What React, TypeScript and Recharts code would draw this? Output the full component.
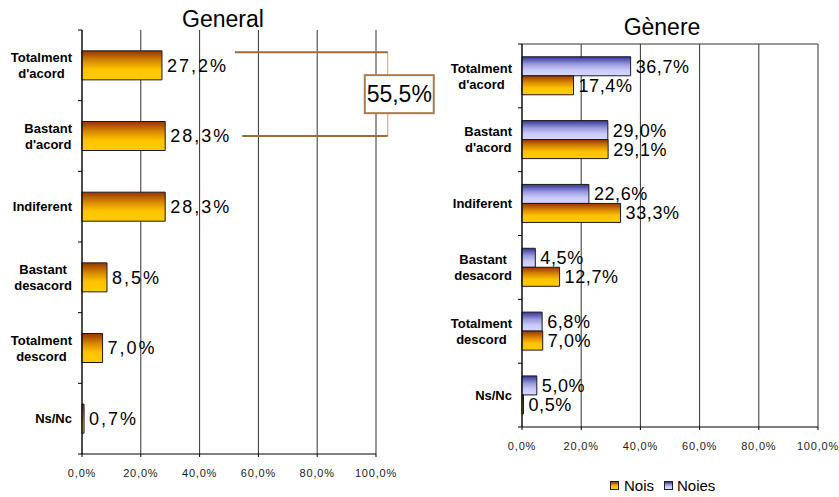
import React from 'react';
import { BarChart, Bar, XAxis, YAxis, CartesianGrid, LabelList, ReferenceLine } from 'recharts';

const categories = [
  "Totalment d'acord",
  "Bastant d'acord",
  'Indiferent',
  'Bastant desacord',
  'Totalment descord',
  'Ns/Nc',
];
const generalValues = [27.2, 28.3, 28.3, 8.5, 7.0, 0.7];
const noisValues = [17.4, 29.1, 33.3, 12.7, 7.0, 0.5];
const noiesValues = [36.7, 29.0, 22.6, 4.5, 6.8, 5.0];
const xTicks = [0, 20, 40, 60, 80, 100];
const seriesNames = ['Nois', 'Noies'];
const titles = ['General', 'Gènere'];

const generalData = categories.map((c, i) => ({ cat: c, total: generalValues[i] }));
const genderData = categories.map((c, i) => ({ cat: c, nois: noisValues[i], noies: noiesValues[i] }));

const FONT = "'Liberation Sans', Arial, Helvetica, sans-serif";
const BROWN = '#9E6A3A';
const fmt = (v: number) => v.toFixed(1).replace('.', ',') + '%';

let ctx: CanvasRenderingContext2D | null = null;
function measure(text: string, font: string) {
  if (!ctx) {
    const c = document.createElement('canvas');
    ctx = c.getContext('2d');
  }
  if (!ctx) return text.length * 7.5;
  ctx.font = font;
  return ctx.measureText(text).width;
}

const CategoryTick = (props: any) => {
  const { x, y, payload, index, bandHalf } = props;
  const half = payload && payload.offset ? payload.offset : bandHalf;
  const lines = String(payload.value).split(' ');
  const font = `bold 13px ${FONT}`;
  const maxW = Math.max(...lines.map((l) => measure(l, font)));
  const cx = x - 10 - maxW / 2;
  const lh = 16;
  const y0 = y - ((lines.length - 1) * lh) / 2;
  return (
    <g>
      <line x1={x - 4} x2={x} y1={y - half} y2={y - half} stroke="#000" />
      {index === categories.length - 1 && (
        <line x1={x - 4} x2={x} y1={y + half} y2={y + half} stroke="#000" />
      )}
      <text textAnchor="middle" fontFamily={FONT} fontWeight="bold" fontSize={13} fill="#000">
        {lines.map((l, i) => (
          <tspan key={i} x={cx} y={y0 + i * lh} dy="0.36em">
            {l}
          </tspan>
        ))}
      </text>
    </g>
  );
};

const XTick = (props: any) => (
  <text
    x={props.x}
    y={props.y}
    dy="0.71em"
    textAnchor="middle"
    fontFamily={FONT}
    fontSize={11}
    letterSpacing={0.8}
    fill="#222"
  >
    {fmt(Number(props.payload.value))}
  </text>
);

const makeLabel = (spacing: number) => (props: any) => {
  const { x, y, width, height, value } = props;
  return (
    <text
      x={Number(x) + Number(width) + 5}
      y={Number(y) + Number(height) / 2}
      dy="0.36em"
      fontFamily={FONT}
      fontSize={18}
      letterSpacing={spacing}
      fill="#000"
    >
      {fmt(Number(value))}
    </text>
  );
};

const GoldStops = () => (
  <>
    <stop offset="0" stopColor="#963500" />
    <stop offset="0.35" stopColor="#D88A00" />
    <stop offset="0.65" stopColor="#FFC400" />
    <stop offset="1" stopColor="#FFCC00" />
  </>
);
const PurpleStops = () => (
  <>
    <stop offset="0" stopColor="#333399" />
    <stop offset="0.4" stopColor="#9C9CDD" />
    <stop offset="0.7" stopColor="#CACAFA" />
    <stop offset="1" stopColor="#D8D8FF" />
  </>
);

const bracketTotal = generalValues[0] + generalValues[1];

export default function App() {
  return (
    <div style={{ position: 'absolute', left: 0, top: 0, width: 839, height: 497, background: '#fff', fontFamily: FONT }}>
      <div style={{ position: 'absolute', left: 123, width: 200, top: 7, textAlign: 'center', fontSize: 23, lineHeight: '24px', color: '#000' }}>
        {titles[0]}
      </div>
      <div style={{ position: 'absolute', left: 562, width: 200, top: 15, textAlign: 'center', fontSize: 23, lineHeight: '24px', color: '#000' }}>
        {titles[1]}
      </div>

      <div style={{ position: 'absolute', left: 0, top: 0 }}>
        <BarChart
          width={440}
          height={497}
          data={generalData}
          layout="vertical"
          margin={{ top: 30, right: 64, bottom: 13, left: 0 }}
          barCategoryGap="29.5%"
        >
          <defs>
            <linearGradient id="gGoldL" x1="0" y1="0" x2="0" y2="1">
              <GoldStops />
            </linearGradient>
          </defs>
          <CartesianGrid horizontal={false} stroke="#333" />
          <XAxis
            type="number"
            domain={[0, 100]}
            ticks={xTicks}
            height={30}
            tickSize={3}
            tickMargin={12}
            axisLine={{ stroke: '#000' }}
            tickLine={{ stroke: '#000' }}
            tick={(p: any) => <XTick {...p} />}
          />
          <YAxis
            type="category"
            dataKey="cat"
            width={82}
            interval={0}
            tickSize={0}
            tickMargin={0}
            tickLine={false}
            axisLine={{ stroke: '#000' }}
            tick={(p: any) => <CategoryTick {...p} bandHalf={35.33} />}
          />
          <Bar dataKey="total" fill="url(#gGoldL)" stroke="#1a1a1a" strokeWidth={1} isAnimationActive={false}>
            <LabelList dataKey="total" content={makeLabel(2)} />
          </Bar>
          <ReferenceLine
            ifOverflow="visible"
            segment={[{ x: 104, y: categories[0] }, { x: 104, y: categories[1] }]}
            shape={(p: any) => {
              const top = p.y1 - 13;
              const mid = (top + p.y2) / 2;
              const bx = p.x1 + 11.5;
              return (
                <g>
                  <line x1={p.x1} x2={p.x2} y1={top} y2={p.y2} stroke="#C9A27E" strokeWidth={1} />
                  <rect x={bx - 34.5} y={mid - 19} width={69} height={38} fill="#fff" stroke="#A87B50" strokeWidth={2} />
                  <text x={bx} y={mid} dy="0.36em" textAnchor="middle" fontFamily={FONT} fontSize={23} fill="#000">
                    {fmt(bracketTotal)}
                  </text>
                </g>
              );
            }}
          />
          <ReferenceLine
            ifOverflow="visible"
            segment={[{ x: 52, y: categories[0] }, { x: 104, y: categories[0] }]}
            shape={(p: any) => (
              <line x1={p.x1} x2={p.x2} y1={p.y1 - 13} y2={p.y2 - 13} stroke={BROWN} strokeWidth={2} />
            )}
          />
          <ReferenceLine
            ifOverflow="visible"
            segment={[{ x: 54.5, y: categories[1] }, { x: 104, y: categories[1] }]}
            shape={(p: any) => (
              <line x1={p.x1} x2={p.x2} y1={p.y1} y2={p.y2} stroke={BROWN} strokeWidth={2} />
            )}
          />
        </BarChart>
      </div>

      <div style={{ position: 'absolute', left: 440, top: 0 }}>
        <BarChart
          width={399}
          height={497}
          data={genderData}
          layout="vertical"
          margin={{ top: 44, right: 21, bottom: 40, left: 0 }}
          barCategoryGap="20%"
          barGap={0}
        >
          <defs>
            <linearGradient id="gGoldR" x1="0" y1="0" x2="0" y2="1">
              <GoldStops />
            </linearGradient>
            <linearGradient id="gPurpleR" x1="0" y1="0" x2="0" y2="1">
              <PurpleStops />
            </linearGradient>
          </defs>
          <CartesianGrid
            stroke="#333"
            horizontalCoordinatesGenerator={(g: any) => [g.offset.top]}
          />
          <XAxis
            type="number"
            domain={[0, 100]}
            ticks={xTicks}
            height={30}
            tickSize={3}
            tickMargin={12}
            axisLine={{ stroke: '#000' }}
            tickLine={{ stroke: '#000' }}
            tick={(p: any) => <XTick {...p} />}
          />
          <YAxis
            type="category"
            dataKey="cat"
            width={82}
            interval={0}
            tickSize={0}
            tickMargin={0}
            tickLine={false}
            axisLine={{ stroke: '#000' }}
            tick={(p: any) => <CategoryTick {...p} bandHalf={31.92} />}
          />
          <Bar dataKey="noies" name={seriesNames[1]} fill="url(#gPurpleR)" stroke="#1a1a1a" strokeWidth={1} isAnimationActive={false}>
            <LabelList dataKey="noies" content={makeLabel(0.6)} />
          </Bar>
          <Bar dataKey="nois" name={seriesNames[0]} fill="url(#gGoldR)" stroke="#1a1a1a" strokeWidth={1} isAnimationActive={false}>
            <LabelList dataKey="nois" content={makeLabel(0.6)} />
          </Bar>
        </BarChart>
      </div>

      <div style={{ position: 'absolute', left: 610, top: 476, height: 18, display: 'flex', alignItems: 'center', fontSize: 15, color: '#000' }}>
        <span style={{ display: 'inline-block', width: 7, height: 7, border: '1px solid #222', background: 'linear-gradient(to bottom, #963500, #D88A00 35%, #FFC400 65%, #FFCC00)' }} />
        <span style={{ marginLeft: 5 }}>{seriesNames[0]}</span>
        <span style={{ display: 'inline-block', width: 7, height: 7, border: '1px solid #222', marginLeft: 10, background: 'linear-gradient(to bottom, #333399, #9C9CDD 40%, #CACAFA 70%, #D8D8FF)' }} />
        <span style={{ marginLeft: 4 }}>{seriesNames[1]}</span>
      </div>
    </div>
  );
}
